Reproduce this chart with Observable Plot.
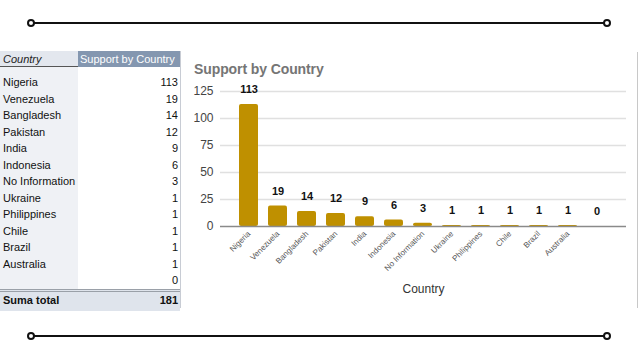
<!DOCTYPE html>
<html><head><meta charset="utf-8">
<script src="https://cdn.jsdelivr.net/npm/d3@7"></script>
<script src="https://cdn.jsdelivr.net/npm/@observablehq/plot@0.6"></script>
<style>
body{margin:0;background:#fff;font-family:"Liberation Sans",Arial,sans-serif;}
#page{position:relative;width:640px;height:360px;overflow:hidden;background:#fff;}
.deco{position:absolute;left:31px;width:576px;height:2px;background:#111;}
.dot{position:absolute;width:4px;height:4px;border:2px solid #111;border-radius:50%;background:#fff;}
#tbl{position:absolute;left:0;top:51px;width:181px;height:257px;font-size:11px;color:#111;}
.cell{position:absolute;white-space:nowrap;}
#chart{position:absolute;left:185px;top:80px;}
#title{position:absolute;left:194px;top:61px;font-size:14px;font-weight:bold;color:#757575;letter-spacing:-0.1px;}
#vborder{position:absolute;left:637px;top:52px;width:1px;height:256px;background:#c8c8c8;}
</style></head>
<body><div id="page">
<div class="deco" style="top:22px"></div>
<div class="dot" style="left:27px;top:19px"></div>
<div class="dot" style="left:603px;top:19px"></div>
<div class="deco" style="top:335px"></div>
<div class="dot" style="left:27px;top:332px"></div>
<div class="dot" style="left:603px;top:332px"></div>
<div id="tbl"></div>
<div id="title">Support by Country</div>
<div id="vborder"></div>
<div id="chart"></div>
</div>
<script>
const countries = ["Nigeria","Venezuela","Bangladesh","Pakistan","India","Indonesia","No Information","Ukraine","Philippines","Chile","Brazil","Australia",""];
const support = [113,19,14,12,9,6,3,1,1,1,1,1,0];
const totalLabel = "Suma total";
const totalValue = 181;
const yTicks = [0,25,50,75,100,125];
const headerCountry = "Country";
const headerValue = "Support by Country";
const xLabel = "Country";

// Table
const tbl = document.getElementById("tbl");
function add(html, style){const d=document.createElement("div");d.className="cell";d.style.cssText=style;d.textContent=html;tbl.appendChild(d);}
add("", "left:0;top:0;width:78px;height:257px;background:#eff1f5;");
add("", "left:0;top:0;width:78px;height:15px;background:#e3e7ee;border-bottom:1px solid #555;");
add("", "left:78px;top:0;width:102px;height:16px;background:#8497b0;");
add("", "left:180px;top:0;width:1px;height:257px;background:#c8ccd4;");
add(headerCountry, "left:3px;top:0;line-height:16px;font-style:italic;color:#222;");
add(headerValue, "left:80px;top:0;line-height:16px;color:#fff;");
countries.forEach((c,i)=>{
  const top = 23 + i*16.5;
  add(c, `left:3px;top:${top}px;line-height:16px;`);
  add(String(support[i]), `right:3px;top:${top}px;line-height:16px;text-align:right;`);
});
add("", "left:0;top:238px;width:180px;height:19px;background:#dfe4ec;border-top:3px double #9aa0a8;");
add(totalLabel, "left:3px;top:241px;line-height:16px;font-weight:bold;");
add(String(totalValue), "right:3px;top:241px;line-height:16px;font-weight:bold;text-align:right;");

// Chart
const data = countries.map((c,i)=>({country:c, value:support[i]}));
const chart = Plot.plot({
  width: 452, height: 230,
  marginLeft: 35, marginRight: 11, marginTop: 11, marginBottom: 84,
  style: {fontFamily: "Liberation Sans, Arial, sans-serif", overflow: "visible", background: "transparent"},
  x: {domain: countries, padding: 0.36, insetLeft: 4.5, insetRight: 5.5, label: null},
  y: {domain: [0,125], label: null},
  marks: [
    Plot.ruleY(yTicks.filter(d=>d>0), {stroke: "#e0e0e0", strokeWidth: 1.5}),
    Plot.barY(data, {x: "country", y: "value", fill: "#bf9000", rx: 2}),
    Plot.ruleY([0], {stroke: "#8a8a8a", strokeWidth: 1.5}),
    Plot.text(data, {x: "country", y: "value", text: d=>String(d.value), dy: -15, fontSize: 11, fontWeight: "bold", fill: "#111"}),
    Plot.axisY({ticks: yTicks, tickSize: 0, tickPadding: 7, fontSize: 12, color: "#444", label: null}),
    Plot.axisX({tickSize: 0, tickPadding: 6, tickRotate: -45, fontSize: 8, color: "#555", label: null, tickFormat: d=>d}),
    Plot.text([xLabel], {frameAnchor: "bottom", dy: 66, fontSize: 12, fill: "#333"})
  ]
});
document.getElementById("chart").appendChild(chart);
</script>
</body></html>
